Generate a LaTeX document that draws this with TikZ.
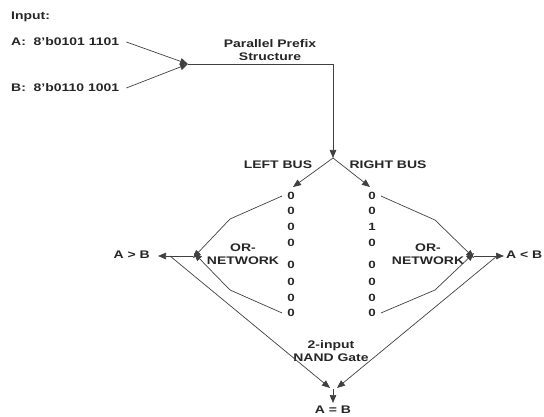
\documentclass[tikz,border=0pt]{standalone}
\usepackage{fontspec}
\setmainfont{Liberation Sans}[FakeStretch=1.27]
\usetikzlibrary{arrows.meta}
\begin{document}
\begin{tikzpicture}[x=1pt,y=-1pt,
  lab/.style={font=\fontsize{11}{12.5}\selectfont\bfseries, inner sep=1pt, text=black!85},
  dig/.style={font=\fontsize{10.5}{11}\selectfont\bfseries, inner sep=1pt, text=black!85},
  wire/.style={draw=black!75, line width=0.7pt},
  arr/.style={wire, -{Triangle[length=8pt,width=6.5pt]}}]
\useasboundingbox (0,0) rectangle (544,417);
\node[lab, anchor=west] (inp) at (10,17) {Input:};
\node[lab, anchor=west] (A) at (10,42) {A:~ 8'b0101 1101};
\node[lab, anchor=west] (B) at (10,88) {B:~ 8'b0110 1001};
\coordinate (join) at (188,64);
\coordinate (corner) at (333,64);
\coordinate (split) at (333,158);
\node[lab, align=center] (pps) at (270,50) {Parallel Prefix\\Structure};
\draw[arr] (A.east)++(6,0) -- (join);
\draw[arr] (B.east)++(6,0) -- (join);
\draw[arr] (join) -- (corner) -- (split);
\node[lab] (lbus) at (278,165) {LEFT BUS};
\node[lab] (rbus) at (388,165) {RIGHT BUS};
% digit columns
\foreach \i/\y/\l/\r in {1/196/0/0, 2/211/0/0, 3/227/0/1, 4/243/0/0, 5/265/0/0, 6/282/0/0, 7/298/0/0, 8/313/0/0}{
  \node[dig] (L\i) at (291,\y) {\l};
  \node[dig] (R\i) at (372,\y) {\r};
}
\coordinate (lt) at (293,187);
\coordinate (rt) at (370,187);
\draw[arr] (split) -- (lt);
\draw[arr] (split) -- (rt);
% left OR network
\node[lab, align=center] (orL) at (243,254) {OR-\\NETWORK};
\coordinate (jL) at (193,256);
\coordinate (oL) at (158,256);
\coordinate (tL) at (170,256);
\draw[arr] ([xshift=-4pt]L1.west) -- (230,219) -- ([yshift=-2pt]jL);
\draw[arr] ([xshift=-4pt]L8.west) -- (230,290) -- ([yshift=3pt,xshift=1pt]jL);
\draw[arr] (jL) -- (oL);
\node[lab, anchor=east] (gt) at (151,255) {A > B};
% right OR network
\node[lab, align=center] (orR) at (428,254) {OR-\\NETWORK};
\coordinate (jR) at (474,256);
\coordinate (oR) at (504,256);
\coordinate (tR) at (497,256);
\draw[arr] ([xshift=4pt]R1.east) -- (435,220) -- ([yshift=-2pt]jR);
\draw[arr] ([xshift=4pt]R8.east) -- (435,290) -- ([yshift=3pt]jR);
\draw[arr] (jR) -- (oR);
\node[lab, anchor=west] (lt2) at (505,255) {A < B};
% NAND
\node[lab, align=center] (nand) at (331,351) {2-input\\NAND Gate};
\coordinate (nL) at (330,388);
\coordinate (nR) at (337,388);
\draw[arr] (tL) -- (nL);
\draw[arr] (tR) -- (nR);
\coordinate (eqs) at (333,389);
\coordinate (eqt) at (333,403);
\draw[arr] (eqs) -- (eqt);
\node[lab] (eq) at (333,410) {A = B};
\end{tikzpicture}
\end{document}
